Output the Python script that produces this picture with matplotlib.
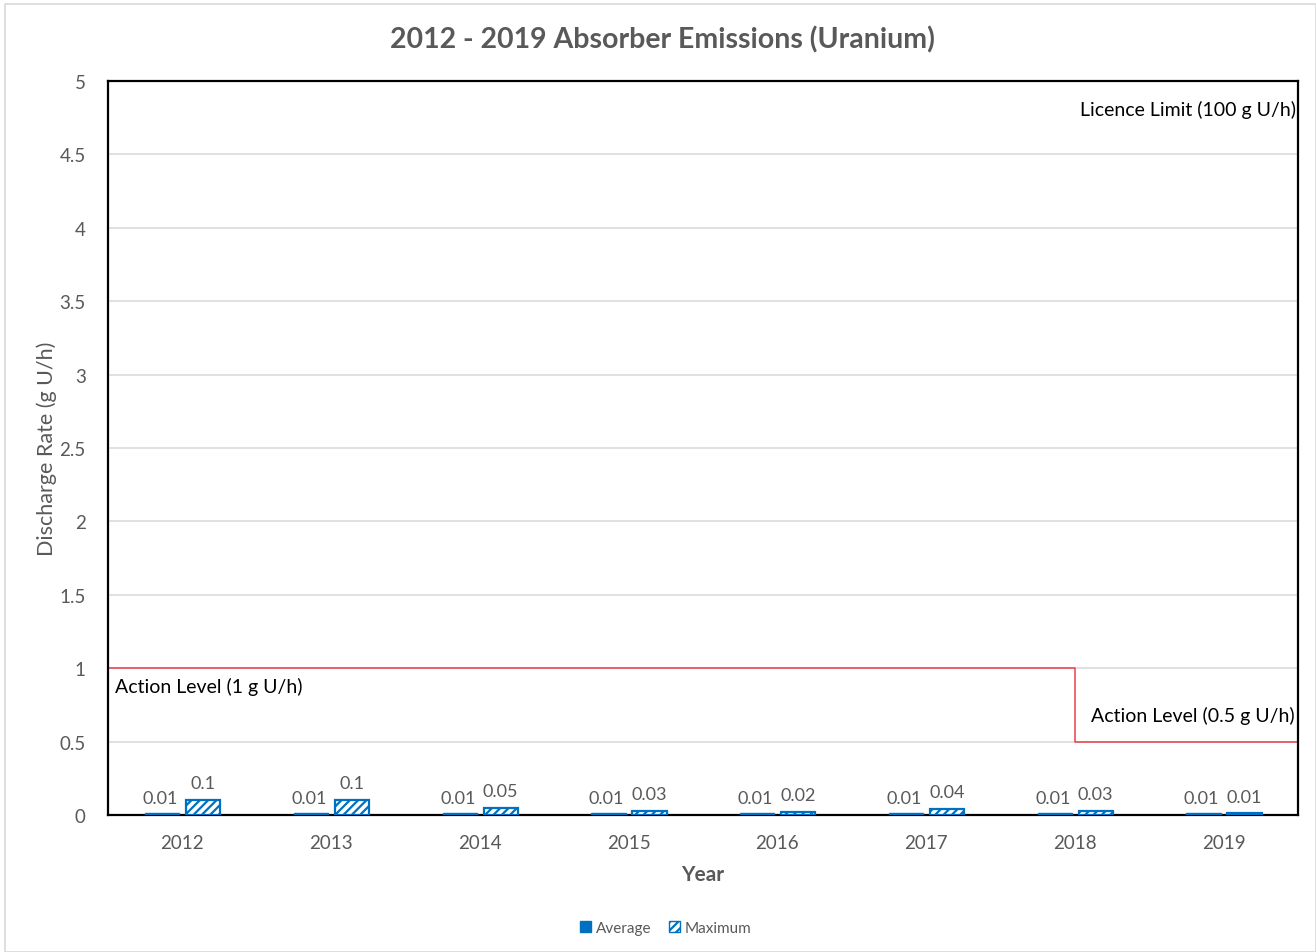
import matplotlib.pyplot as plt
import matplotlib.patches as mpatches
import numpy as np

years = ['2012', '2013', '2014', '2015', '2016', '2017', '2018', '2019']
average = [0.01, 0.01, 0.01, 0.01, 0.01, 0.01, 0.01, 0.01]
maximum = [0.1, 0.1, 0.05, 0.03, 0.02, 0.04, 0.03, 0.01]

# action level steps (g U/h): 1 until 2018, then 0.5
action_x = [-0.5, 6, 6, 7.5]
action_y = [1, 1, 0.5, 0.5]

BLUE = '#0070C0'
GREY = '#595959'

plt.rcParams['font.family'] = ['Lato', 'DejaVu Sans']
plt.rcParams['hatch.linewidth'] = 1.6

fig = plt.figure(figsize=(13.16, 9.53), dpi=100)
fig.patches.append(mpatches.Rectangle((0.004, 0.0), 0.996, 0.995, transform=fig.transFigure,
                                      fill=False, edgecolor='#d9d9d9', linewidth=1.2))
ax = fig.add_axes([0.0821, 0.1438, 0.9042, 0.7702])

x = np.arange(len(years))
w = 0.23
ax.bar(x - 0.135, average, w, color=BLUE, edgecolor=BLUE, zorder=3)
plt.rcParams['hatch.color'] = BLUE
ax.bar(x + 0.14, maximum, w, color='white', edgecolor=BLUE, hatch='////', linewidth=1.6, zorder=3)

for i in range(len(years)):
    ax.text(x[i] - 0.148, 0.06, f'{average[i]:g}', ha='center', va='bottom', fontsize=13, color=GREY)
    ax.text(x[i] + 0.14, maximum[i] + 0.06, f'{maximum[i]:g}', ha='center', va='bottom', fontsize=13, color=GREY)

ax.plot(action_x, action_y, color='#E8414E', linewidth=1.1, zorder=2)

ax.text(-0.45, 0.88, 'Action Level (1 g U/h)', fontsize=14, color='black', va='center')
ax.text(7.48, 0.68, 'Action Level (0.5 g U/h)', fontsize=14, color='black', va='center', ha='right')
ax.text(7.49, 4.81, 'Licence Limit (100 g U/h)', fontsize=14, color='black', va='center', ha='right')

ax.set_xlim(-0.5, 7.5)
ax.set_ylim(0, 5)
ax.set_yticks(np.arange(0, 5.01, 0.5))
ax.set_yticklabels(['0', '0.5', '1', '1.5', '2', '2.5', '3', '3.5', '4', '4.5', '5'])
ax.set_xticks(x)
ax.set_xticklabels(years)
ax.tick_params(length=0, labelsize=13.5, colors=GREY, pad=14)
ax.tick_params(axis='y', pad=16)
ax.grid(axis='y', color='#d9d9d9', linewidth=1.1, zorder=0)
ax.set_axisbelow(True)
for s in ax.spines.values():
    s.set_color('black')
    s.set_linewidth(1.6)

fig.suptitle('2012 - 2019 Absorber Emissions (Uranium)', x=0.503, y=0.958, va='center',
             fontsize=20.5, fontweight='bold', color=GREY)
ax.set_xlabel('Year', fontsize=15, fontweight='bold', color=GREY, labelpad=9)
ax.set_ylabel('Discharge Rate (g U/h)', fontsize=15.5, color=GREY, labelpad=2)

h1 = mpatches.Patch(facecolor=BLUE, edgecolor=BLUE, label='Average')
h2 = mpatches.Patch(facecolor='white', edgecolor=BLUE, hatch='////', label='Maximum')
fig.legend(handles=[h1, h2], loc='center', bbox_to_anchor=(0.506, 0.025), ncol=2, frameon=False,
           fontsize=11, labelcolor=GREY, handlelength=0.7, handleheight=0.7, handletextpad=0.3, columnspacing=1.2)

fig.savefig('out.png', dpi=100)
